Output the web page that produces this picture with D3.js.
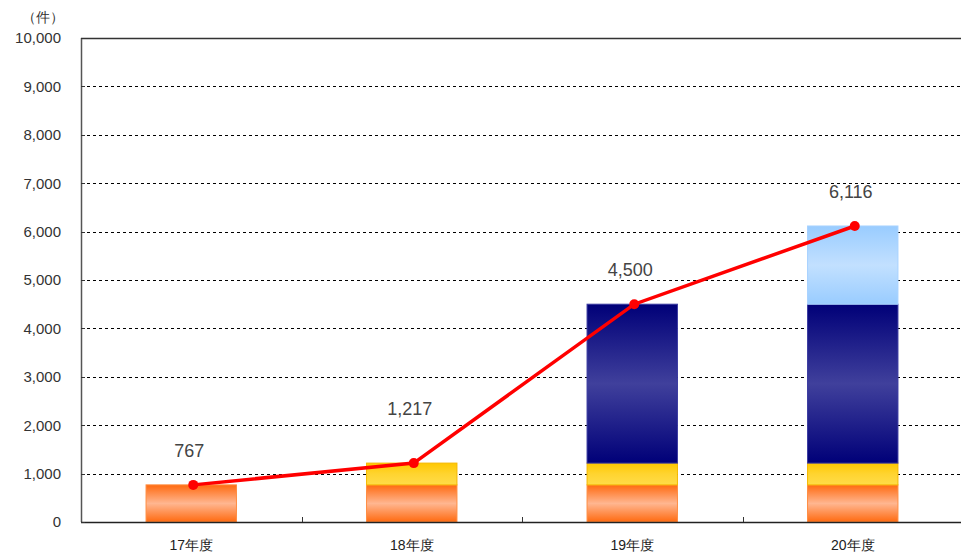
<!DOCTYPE html>
<html>
<head>
<meta charset="utf-8">
<script src="https://cdn.jsdelivr.net/npm/d3@7"></script>
<style>
body { margin: 0; background: #fff; }
svg { display: block; }
text { font-family: "Liberation Sans", Arial, sans-serif; }
</style>
</head>
<body>
<script>
// data
var years = ["17年度", "18年度", "19年度", "20年度"];
var seriesA = [767, 767, 767, 767];     // orange
var seriesB = [0, 450, 450, 450];       // yellow
var seriesC = [0, 0, 3283, 3283];       // navy
var seriesD = [0, 0, 0, 1616];          // light blue
var totals = [767, 1217, 4500, 6116];
var yTicks = [0, 1000, 2000, 3000, 4000, 5000, 6000, 7000, 8000, 9000, 10000];

var W = 961, H = 552;
var margin = {top: 38, left: 81, bottom: 30};
var plotW = 882, plotH = 484;

var svg = d3.select("body").append("svg")
    .attr("width", W)
    .attr("height", H);

var defs = svg.append("defs");
// vertical gradients: [top, middle, bottom]
var grads = [
    {id: "gA", c: ["#ff6a10", "#ffb690", "#ff6a10"], stroke: "#ff8c40"},
    {id: "gB", c: ["#ffc800", "#ffd430", "#ffdc48"], stroke: "#f5b800"},
    {id: "gC", c: ["#000078", "#40409c", "#000078"], stroke: "#3a3aa0"},
    {id: "gD", c: ["#99ccff", "#c2e0ff", "#99ccff"], stroke: "#a8d2ff"}
];
grads.forEach(function(g) {
    var lg = defs.append("linearGradient")
        .attr("id", g.id)
        .attr("x1", 0).attr("y1", 0).attr("x2", 0).attr("y2", 1);
    lg.append("stop").attr("offset", "0%").attr("stop-color", g.c[0]);
    lg.append("stop").attr("offset", "50%").attr("stop-color", g.c[1]);
    lg.append("stop").attr("offset", "100%").attr("stop-color", g.c[2]);
});

var g = svg.append("g")
    .attr("transform", "translate(" + margin.left + "," + margin.top + ")");

var x = d3.scaleBand()
    .domain(years)
    .range([0, plotW])
    .paddingInner(0.59)
    .paddingOuter(0.295);

var xc = d3.scaleBand().domain(years).range([0, plotW]);

var y = d3.scaleLinear()
    .domain([0, 10000])
    .range([plotH, 0]);

// gridlines
g.selectAll(".grid")
    .data(yTicks.slice(1, -1))
    .enter().append("line")
    .attr("x1", 0).attr("x2", plotW)
    .attr("y1", function(d) { return Math.round(y(d)) + 0.5; })
    .attr("y2", function(d) { return Math.round(y(d)) + 0.5; })
    .attr("stroke", "#000")
    .attr("stroke-width", 1)
    .attr("stroke-dasharray", "3,3");

// stacked bars
var stackData = years.map(function(yr, i) {
    return {year: yr, A: seriesA[i], B: seriesB[i], C: seriesC[i], D: seriesD[i]};
});
var stack = d3.stack().keys(["A", "B", "C", "D"]);
var layers = stack(stackData);

g.selectAll(".layer")
    .data(layers)
    .enter().append("g")
    .attr("class", "layer")
    .each(function(layer, li) {
        d3.select(this).selectAll("rect")
            .data(layer.filter(function(d) { return d[1] > d[0]; }))
            .enter().append("rect")
            .attr("x", function(d) { return x(d.data.year); })
            .attr("y", function(d) { return y(d[1]); })
            .attr("width", x.bandwidth())
            .attr("height", function(d) { return y(d[0]) - y(d[1]); })
            .attr("fill", "url(#" + grads[li].id + ")")
            .attr("stroke", grads[li].stroke)
            .attr("stroke-width", 1);
    });

// axes frame
g.append("line")
    .attr("x1", 0).attr("x2", plotW)
    .attr("y1", 0.5).attr("y2", 0.5)
    .attr("stroke", "#333").attr("stroke-width", 1.5);
g.append("line")
    .attr("x1", 0.5).attr("x2", 0.5)
    .attr("y1", 0).attr("y2", plotH)
    .attr("stroke", "#555").attr("stroke-width", 1.5);
g.append("line")
    .attr("x1", 0).attr("x2", plotW)
    .attr("y1", plotH + 0.5).attr("y2", plotH + 0.5)
    .attr("stroke", "#222").attr("stroke-width", 1.5);

// y ticks (inside) and labels
g.selectAll(".ytick")
    .data(yTicks)
    .enter().append("line")
    .attr("x1", 0).attr("x2", 4)
    .attr("y1", function(d) { return Math.round(y(d)) + 0.5; })
    .attr("y2", function(d) { return Math.round(y(d)) + 0.5; })
    .attr("stroke", "#333");

var fmt = d3.format(",");
g.selectAll(".ylab")
    .data(yTicks)
    .enter().append("text")
    .attr("x", -20)
    .attr("y", function(d) { return y(d); })
    .attr("dy", "0.36em")
    .attr("text-anchor", "end")
    .attr("font-size", 15)
    .attr("fill", "#333")
    .text(function(d) { return fmt(d); });

// x ticks between categories (inside)
g.selectAll(".xtick")
    .data(years.slice(1))
    .enter().append("line")
    .attr("x1", function(d) { return Math.round(xc(d)) + 0.5; })
    .attr("x2", function(d) { return Math.round(xc(d)) + 0.5; })
    .attr("y1", plotH - 5).attr("y2", plotH)
    .attr("stroke", "#333");

g.selectAll(".xlab")
    .data(years)
    .enter().append("text")
    .attr("x", function(d) { return xc(d) + xc.bandwidth() / 2; })
    .attr("y", plotH + 28)
    .attr("text-anchor", "middle")
    .attr("font-size", 14)
    .attr("fill", "#222")
    .text(function(d) { return d; });

// unit label
svg.append("text")
    .attr("x", 43)
    .attr("y", 22)
    .attr("text-anchor", "middle")
    .attr("font-size", 14)
    .attr("font-family", "'Noto Sans CJK JP', sans-serif")
    .attr("fill", "#333")
    .text("（件）");

// total line
var cx = function(d, i) { return xc(years[i]) + xc.bandwidth() / 2 + 2; };
var line = d3.line()
    .x(function(d, i) { return cx(d, i); })
    .y(function(d) { return y(d); });

g.append("path")
    .datum(totals)
    .attr("d", line)
    .attr("fill", "none")
    .attr("stroke", "#ff0000")
    .attr("stroke-width", 3.5);

g.selectAll(".dot")
    .data(totals)
    .enter().append("circle")
    .attr("cx", cx)
    .attr("cy", function(d) { return y(d); })
    .attr("r", 5)
    .attr("fill", "#ff0000");

// value labels; the second one is lifted clear of the rising line
g.selectAll(".tlab")
    .data(totals)
    .enter().append("text")
    .attr("x", function(d, i) { return cx(d, i) - 4; })
    .attr("y", function(d, i) { return y(d) - (i === 1 ? 48 : 28); })
    .attr("text-anchor", "middle")
    .attr("font-size", 18)
    .attr("fill", "#444")
    .text(function(d) { return fmt(d); });
</script>
</body>
</html>
